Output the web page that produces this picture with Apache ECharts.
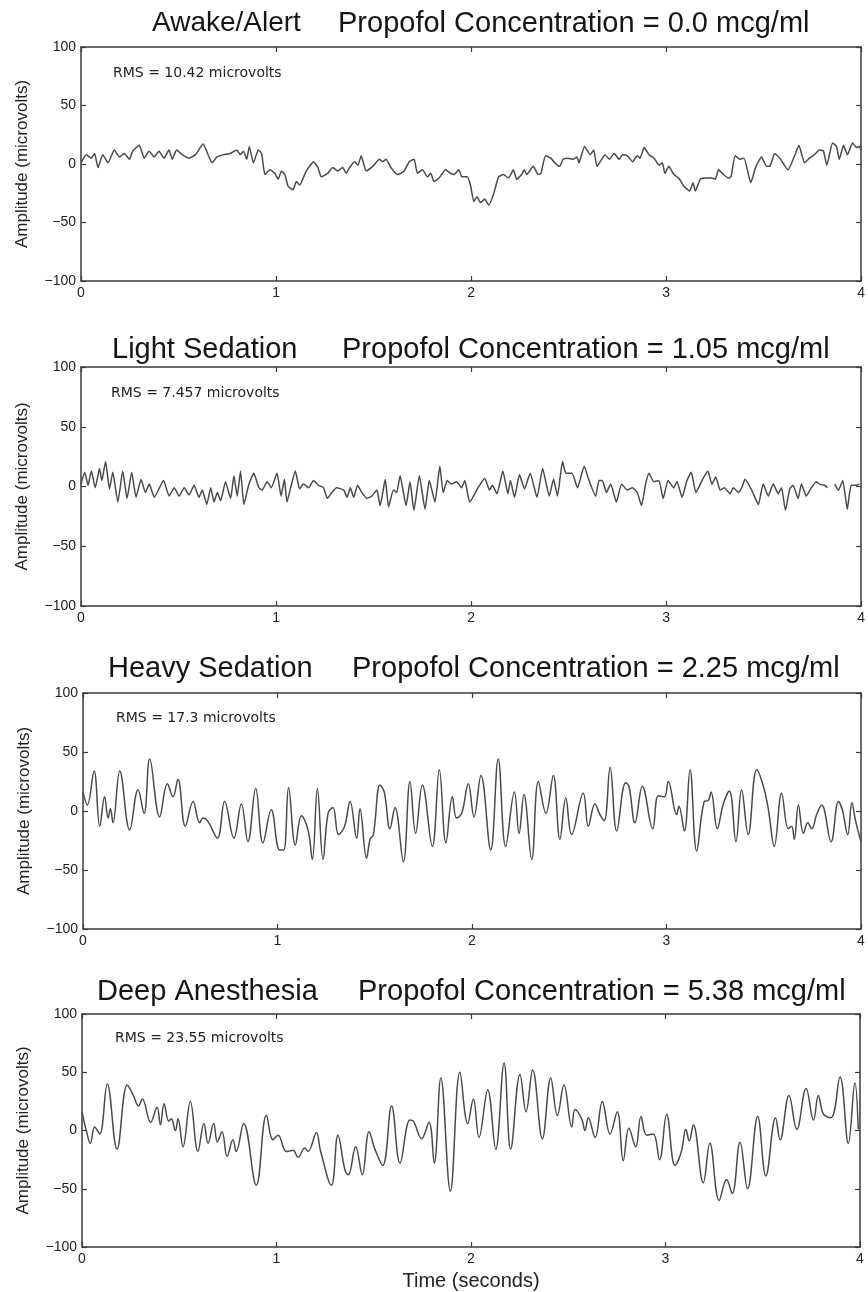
<!DOCTYPE html>
<html><head><meta charset="utf-8">
<script src="https://cdn.jsdelivr.net/npm/echarts@6/dist/echarts.min.js"></script>
<style>html,body{margin:0;padding:0;background:#fff}#c{width:868px;height:1292px}</style>
</head><body><div id="c"></div>
<script>
// ---- data (time in seconds, amplitude in microvolts) ----
const stateLabels = ['Awake/Alert', 'Light Sedation', 'Heavy Sedation', 'Deep Anesthesia'];
const concLabels = ['Propofol Concentration = 0.0 mcg/ml', 'Propofol Concentration = 1.05 mcg/ml', 'Propofol Concentration = 2.25 mcg/ml', 'Propofol Concentration = 5.38 mcg/ml'];
const rmsLabels = ['RMS = 10.42 microvolts', 'RMS = 7.457 microvolts', 'RMS = 17.3 microvolts', 'RMS = 23.55 microvolts'];
const xTickValues = [0, 1, 2, 3, 4];
const yTickValues = [-100, -50, 0, 50, 100];

const awakeData = [[0.00,1],[0.027,8],[0.053,5],[0.070,9],[0.087,-3],[0.112,8],[0.138,1],[0.171,12],[0.197,6],[0.222,9],[0.248,4],[0.265,11],[0.299,16],[0.324,5],[0.349,11],[0.375,6],[0.400,11],[0.426,5],[0.451,12],[0.468,4],[0.490,12],[0.519,8],[0.553,5],[0.587,8],[0.626,17],[0.672,1],[0.697,6],[0.731,8],[0.765,9],[0.799,12],[0.816,8],[0.833,11],[0.850,4],[0.863,15],[0.884,1],[0.909,12],[0.926,9],[0.943,-9],[0.969,-5],[0.994,-8],[1.011,-13],[1.028,-6],[1.045,-9],[1.062,-19],[1.087,-22],[1.104,-15],[1.121,-18],[1.155,-6],[1.193,2],[1.215,-3],[1.232,-11],[1.265,-8],[1.291,-3],[1.316,-6],[1.342,-3],[1.360,-8],[1.377,-3],[1.403,2],[1.420,-1],[1.437,7],[1.462,-6],[1.496,-2],[1.530,4],[1.547,2],[1.564,4],[1.589,-3],[1.623,-9],[1.657,-6],[1.683,2],[1.708,4],[1.725,-8],[1.751,-5],[1.776,-11],[1.793,-8],[1.810,-15],[1.836,-12],[1.869,-5],[1.895,-8],[1.912,-9],[1.937,-5],[1.954,-11],[1.980,-11],[1.997,-18],[2.014,-32],[2.031,-28],[2.048,-33],[2.070,-30],[2.090,-35],[2.115,-26],[2.141,-11],[2.166,-9],[2.192,-12],[2.217,-5],[2.234,-13],[2.260,-9],[2.273,-5],[2.285,-9],[2.319,-2],[2.344,-9],[2.358,-8],[2.382,7],[2.409,5],[2.429,1],[2.455,-2],[2.472,4],[2.497,5],[2.522,4],[2.543,6],[2.553,1],[2.582,15],[2.612,8],[2.629,12],[2.646,-2],[2.687,8],[2.709,4],[2.734,9],[2.760,4],[2.777,8],[2.802,7],[2.828,2],[2.853,7],[2.867,5],[2.887,14],[2.913,8],[2.938,5],[2.964,-1],[2.981,1],[2.994,-8],[3.014,-2],[3.040,-9],[3.065,-12],[3.091,-19],[3.121,-23],[3.138,-16],[3.150,-23],[3.176,-13],[3.209,-12],[3.235,-12],[3.252,-13],[3.269,-5],[3.294,-9],[3.320,-12],[3.333,-11],[3.354,7],[3.379,4],[3.400,5],[3.434,-16],[3.461,-2],[3.489,6],[3.515,-2],[3.532,-2],[3.557,9],[3.583,5],[3.625,-5],[3.659,7],[3.681,16],[3.710,1],[3.735,5],[3.761,8],[3.786,12],[3.807,11],[3.824,-1],[3.854,18],[3.874,15],[3.888,4],[3.910,16],[3.930,8],[3.956,18],[3.976,14],[3.990,15],[4.0,12]];

const lightData = [[0.0,2],[0.019,12],[0.036,1],[0.053,13],[0.073,-1],[0.095,15],[0.107,5],[0.126,21],[0.146,-2],[0.163,12],[0.189,-13],[0.214,13],[0.236,-10],[0.260,12],[0.282,-9],[0.308,6],[0.330,-5],[0.350,2],[0.376,-9],[0.423,5],[0.452,-8],[0.478,-1],[0.503,-8],[0.529,-1],[0.554,-7],[0.580,1],[0.605,-9],[0.622,-3],[0.645,-15],[0.665,-1],[0.682,-13],[0.699,-5],[0.716,-12],[0.741,4],[0.767,-10],[0.784,9],[0.801,-8],[0.818,13],[0.835,-15],[0.861,2],[0.886,11],[0.912,-1],[0.929,-3],[0.954,4],[0.976,-1],[1.005,11],[1.026,-8],[1.043,6],[1.056,-13],[1.078,1],[1.099,13],[1.121,-2],[1.141,2],[1.167,-1],[1.192,5],[1.218,1],[1.243,-1],[1.264,-10],[1.286,-5],[1.311,-1],[1.347,-3],[1.364,-9],[1.381,-1],[1.398,-9],[1.418,1],[1.440,-5],[1.466,-10],[1.491,-8],[1.517,-3],[1.534,-16],[1.560,6],[1.577,-17],[1.602,-3],[1.619,-5],[1.636,9],[1.667,-16],[1.687,4],[1.707,-20],[1.735,9],[1.764,-19],[1.786,5],[1.815,-13],[1.840,17],[1.857,-5],[1.878,5],[1.900,2],[1.925,4],[1.951,-1],[1.968,5],[1.993,-13],[2.036,-1],[2.070,7],[2.095,-3],[2.109,1],[2.133,-6],[2.163,13],[2.189,-6],[2.202,5],[2.223,-9],[2.248,10],[2.274,-2],[2.303,11],[2.338,-9],[2.367,15],[2.401,-8],[2.423,6],[2.443,-8],[2.469,21],[2.486,11],[2.517,11],[2.546,-1],[2.580,17],[2.605,5],[2.639,-8],[2.656,5],[2.673,5],[2.694,-5],[2.716,2],[2.745,-13],[2.772,2],[2.801,-3],[2.827,-1],[2.852,-5],[2.874,-16],[2.895,2],[2.912,11],[2.937,4],[2.963,5],[2.985,-10],[3.010,5],[3.039,-1],[3.056,4],[3.082,-9],[3.107,5],[3.129,12],[3.153,-5],[3.184,5],[3.214,13],[3.235,2],[3.255,8],[3.277,-3],[3.299,-1],[3.328,-6],[3.345,-1],[3.371,-5],[3.388,-1],[3.405,6],[3.439,-3],[3.473,-15],[3.498,2],[3.524,-8],[3.549,2],[3.575,-6],[3.592,-1],[3.612,-20],[3.634,-2],[3.651,1],[3.677,-10],[3.694,2],[3.719,-8],[3.745,-1],[3.770,4],[3.787,2],[3.813,1],[3.827,-1],[3.845,null],[3.864,2],[3.884,-3],[3.906,5],[3.929,-19],[3.949,1],[3.974,1],[3.991,2]];

const heavyData = [[0,16],[0.022,5],[0.057,34],[0.086,-13],[0.111,12],[0.129,-6],[0.141,2],[0.154,-10],[0.189,34],[0.240,-16],[0.283,18],[0.314,-2],[0.343,44],[0.394,-5],[0.434,23],[0.463,12],[0.488,27],[0.526,-13],[0.566,8],[0.600,-10],[0.617,-6],[0.643,-9],[0.691,-23],[0.728,8],[0.776,-23],[0.814,6],[0.848,-26],[0.888,19],[0.925,-27],[0.968,1],[1.011,-33],[1.032,-33],[1.057,20],[1.092,-29],[1.123,-4],[1.157,-16],[1.179,-41],[1.205,19],[1.234,-41],[1.260,-2],[1.285,3],[1.314,-20],[1.345,-13],[1.373,8],[1.407,-23],[1.424,2],[1.458,-40],[1.476,-24],[1.493,-20],[1.527,22],[1.549,16],[1.578,-15],[1.604,3],[1.647,-43],[1.681,25],[1.710,-19],[1.745,22],[1.796,-30],[1.832,35],[1.866,-27],[1.899,12],[1.921,-6],[1.947,-2],[1.981,23],[2.010,-5],[2.046,30],[2.096,-33],[2.135,44],[2.173,-30],[2.218,16],[2.242,-19],[2.267,14],[2.307,-41],[2.341,25],[2.380,-2],[2.418,30],[2.452,-24],[2.482,11],[2.512,-20],[2.572,15],[2.598,-13],[2.632,6],[2.658,-3],[2.680,-8],[2.710,37],[2.744,-17],[2.790,24],[2.807,21],[2.838,-10],[2.876,21],[2.929,-15],[2.958,13],[2.989,12],[3.009,25],[3.052,-3],[3.064,4],[3.092,-17],[3.121,35],[3.155,-34],[3.194,8],[3.215,9],[3.229,16],[3.261,-15],[3.292,6],[3.323,17],[3.357,-26],[3.386,18],[3.420,-20],[3.464,35],[3.498,21],[3.524,1],[3.554,-30],[3.592,15],[3.626,-15],[3.643,-13],[3.657,-24],[3.678,5],[3.704,-19],[3.726,-10],[3.747,-15],[3.772,-3],[3.798,5],[3.846,-26],[3.884,8],[3.904,1],[3.932,-20],[3.953,7],[3.973,-9],[4.0,-26]];

const deepData = [[0,16],[0.022,0],[0.043,-11],[0.065,3],[0.091,-3],[0.130,40],[0.180,-16],[0.233,39],[0.262,31],[0.291,21],[0.310,27],[0.353,7],[0.386,20],[0.403,5],[0.422,23],[0.446,8],[0.459,10],[0.480,0],[0.494,10],[0.519,-14],[0.557,25],[0.596,-18],[0.627,6],[0.648,-11],[0.677,6],[0.696,-10],[0.720,-1],[0.746,-22],[0.776,-8],[0.793,-18],[0.831,6],[0.896,-47],[0.948,13],[0.982,-8],[1.008,-4],[1.051,-18],[1.085,-17],[1.111,-23],[1.145,-15],[1.162,-18],[1.205,-2],[1.227,-18],[1.282,-47],[1.316,-4],[1.352,-34],[1.369,-38],[1.407,-14],[1.441,-38],[1.476,-1],[1.506,-16],[1.546,-30],[1.592,21],[1.635,-28],[1.686,9],[1.704,8],[1.746,-7],[1.784,7],[1.811,-28],[1.845,45],[1.894,-52],[1.943,50],[1.983,6],[2.012,27],[2.041,-6],[2.086,35],[2.127,-16],[2.170,58],[2.204,-16],[2.252,48],[2.283,16],[2.317,52],[2.367,-7],[2.410,45],[2.444,13],[2.478,39],[2.518,3],[2.535,18],[2.569,10],[2.586,0],[2.603,11],[2.638,-6],[2.675,25],[2.715,-3],[2.752,16],[2.783,-26],[2.812,2],[2.847,-14],[2.874,12],[2.903,-4],[2.937,-3],[2.969,-25],[3.006,14],[3.049,-30],[3.080,-19],[3.105,1],[3.122,-9],[3.143,5],[3.194,-45],[3.228,-11],[3.276,-60],[3.314,-42],[3.343,-54],[3.383,-10],[3.422,-50],[3.474,12],[3.516,-39],[3.566,11],[3.589,-8],[3.635,30],[3.675,1],[3.723,36],[3.761,9],[3.786,30],[3.812,14],[3.851,11],[3.897,46],[3.940,-11],[3.974,41],[3.991,1]];

const seriesData = [awakeData, lightData, heavyData, deepData];

// ---- layout ----
const grids = [
  {left: 81, top: 47, width: 786, height: 234},
  {left: 81, top: 367, width: 784, height: 239},
  {left: 83, top: 693, width: 778, height: 236},
  {left: 82, top: 1014, width: 778, height: 236}
];
const titleTops = [9, 335, 654, 977];
const stateFontSizes = [28, 29, 29, 29];
const stateLefts = [152, 112, 108, 97];
const concLefts = [338, 342, 352, 358];
const rmsPos = [[113, 66], [111, 386], [116, 711], [115, 1031]];
const smoothness = [0.15, 0.15, 0.4, 0.4];

const FONT = 'Liberation Sans, Arial, Helvetica, sans-serif';
const WIDEFONT = 'DejaVu Sans, Verdana, sans-serif';
const AX = '#3a3a3a';
const fmtY = v => v < 0 ? '\u2212' + Math.abs(v) : String(v);

const titles = [], xAxes = [], yAxes = [], series = [];
grids.forEach((g, i) => {
  titles.push({text: stateLabels[i], left: stateLefts[i], top: titleTops[i], padding: 0,
    textStyle: {fontFamily: FONT, fontSize: stateFontSizes[i], fontWeight: 'normal', color: '#151515'}});
  titles.push({text: concLabels[i], left: concLefts[i], top: titleTops[i], padding: 0,
    textStyle: {fontFamily: FONT, fontSize: 29, fontWeight: 'normal', color: '#151515'}});
  titles.push({text: rmsLabels[i], left: rmsPos[i][0], top: rmsPos[i][1], padding: 0,
    textStyle: {fontFamily: WIDEFONT, fontSize: 14, fontWeight: 'normal', color: '#222'}});
  const common = {min: xTickValues[0], max: xTickValues[xTickValues.length - 1], interval: 1, gridIndex: i,
    axisLine: {show: true, onZero: false, lineStyle: {color: AX, width: 1.5}},
    axisTick: {show: true, inside: true, length: 5, lineStyle: {color: AX, width: 1.2}},
    splitLine: {show: false}};
  xAxes.push(Object.assign({type: 'value', position: 'bottom',
    axisLabel: {fontFamily: FONT, fontSize: 14, color: '#222', margin: 5},
    name: i === 3 ? 'Time (seconds)' : '', nameLocation: 'middle', nameGap: 24,
    nameTextStyle: {fontFamily: FONT, fontSize: 20, color: '#222'}}, common));
  xAxes.push(Object.assign({type: 'value', position: 'top', axisLabel: {show: false}}, common));
  const ycommon = {min: yTickValues[0], max: yTickValues[yTickValues.length - 1], interval: 50, gridIndex: i,
    axisLine: {show: true, onZero: false, lineStyle: {color: AX, width: 1.5}},
    axisTick: {show: true, inside: true, length: 5, lineStyle: {color: AX, width: 1.2}},
    splitLine: {show: false}};
  yAxes.push(Object.assign({type: 'value', position: 'left',
    axisLabel: {fontFamily: FONT, fontSize: 14, color: '#222', margin: 5, formatter: fmtY},
    name: 'Amplitude (microvolts)', nameLocation: 'middle', nameGap: 50,
    nameTextStyle: {fontFamily: FONT, fontSize: 17, color: '#222'}}, ycommon));
  yAxes.push(Object.assign({type: 'value', position: 'right', axisLabel: {show: false}}, ycommon));
  series.push({type: 'line', xAxisIndex: i * 2, yAxisIndex: i * 2, data: seriesData[i],
    showSymbol: false, smooth: smoothness[i], connectNulls: false, animation: false,
    lineStyle: {color: '#4a4a4a', width: 1.5}});
});

const chart = echarts.init(document.getElementById('c'), null, {renderer: 'canvas'});
chart.setOption({
  backgroundColor: '#ffffff',
  animation: false,
  title: titles,
  grid: grids,
  xAxis: xAxes,
  yAxis: yAxes,
  series: series
});
</script></body></html>
